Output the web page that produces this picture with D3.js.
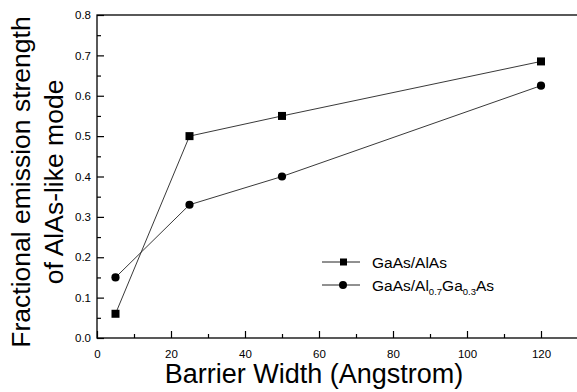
<!DOCTYPE html>
<html>
<head>
<meta charset="utf-8">
<script src="https://cdn.jsdelivr.net/npm/d3@7"></script>
<style>
  body { margin: 0; background: #fff; }
  svg { display: block; font-family: "Liberation Sans", Arial, sans-serif; }
</style>
</head>
<body>
<div id="chart"></div>
<script>
const barrierWidth = [5, 25, 50, 120];
const gaasAlas = [0.06, 0.50, 0.55, 0.685];
const gaasAlgaas = [0.15, 0.33, 0.40, 0.625];
const xTicks = [0, 20, 40, 60, 80, 100, 120];
const yTicks = [0.0, 0.1, 0.2, 0.3, 0.4, 0.5, 0.6, 0.7, 0.8];

const width = 577, height = 392;
const margin = { top: 15, right: -1, bottom: 54, left: 97 };

const svg = d3.select('#chart').append('svg')
  .attr('width', width)
  .attr('height', height);

const x = d3.scaleLinear().domain([0, 130]).range([margin.left, width - margin.right]);
const y = d3.scaleLinear().domain([0, 0.8]).range([height - margin.bottom, margin.top]);

// frame
svg.append('rect')
  .attr('x', x(0)).attr('y', y(0.8))
  .attr('width', x(130) - x(0)).attr('height', y(0) - y(0.8))
  .attr('fill', 'none').attr('stroke', '#000').attr('stroke-width', 1.3);

// x axis (ticks inside)
svg.append('g')
  .attr('transform', `translate(0,${y(0)})`)
  .call(d3.axisBottom(x).tickValues(xTicks).tickSize(-7).tickPadding(12).tickFormat(d3.format('d')));
svg.append('g')
  .attr('transform', `translate(0,${y(0)})`)
  .call(d3.axisBottom(x).tickValues(d3.range(10, 130, 20)).tickSize(-4).tickFormat(''));

svg.append('g')
  .attr('transform', `translate(${x(0)},0)`)
  .call(d3.axisLeft(y).tickValues(yTicks).tickSize(-7).tickPadding(6).tickFormat(d3.format('.1f')));
svg.append('g')
  .attr('transform', `translate(${x(0)},0)`)
  .call(d3.axisLeft(y).tickValues(d3.range(0.05, 0.8, 0.1)).tickSize(-4).tickFormat(''));

svg.selectAll('.domain').remove();
svg.selectAll('.tick line').attr('stroke', '#000').attr('stroke-width', 1.2);
svg.selectAll('.tick text').attr('font-size', 11.5).attr('fill', '#000')
  .attr('font-family', '"Liberation Sans", Arial, sans-serif');

// series
const line = d3.line().x((d, i) => x(barrierWidth[i])).y(d => y(d));

[gaasAlas, gaasAlgaas].forEach(values => {
  svg.append('path')
    .datum(values)
    .attr('d', line)
    .attr('fill', 'none')
    .attr('stroke', '#222')
    .attr('stroke-width', 0.9);
});

svg.selectAll('.sq').data(gaasAlas).enter().append('rect')
  .attr('x', (d, i) => x(barrierWidth[i]) - 4)
  .attr('y', d => y(d) - 4)
  .attr('width', 8).attr('height', 8)
  .attr('fill', '#000');

svg.selectAll('.ci').data(gaasAlgaas).enter().append('circle')
  .attr('cx', (d, i) => x(barrierWidth[i]))
  .attr('cy', d => y(d))
  .attr('r', 4.1)
  .attr('fill', '#000');

// legend
const lg = svg.append('g').attr('transform', 'translate(322,262)');
lg.append('line').attr('x1', 0).attr('x2', 38).attr('y1', 0).attr('y2', 0).attr('stroke', '#222');
lg.append('rect').attr('x', 18).attr('y', -3.5).attr('width', 7).attr('height', 7).attr('fill', '#000');
lg.append('text').attr('x', 50).attr('y', 5.5).attr('font-size', 15.5).text('GaAs/AlAs');

const lg2 = svg.append('g').attr('transform', 'translate(322,285)');
lg2.append('line').attr('x1', 0).attr('x2', 38).attr('y1', 0).attr('y2', 0).attr('stroke', '#222');
lg2.append('circle').attr('cx', 21).attr('cy', 0).attr('r', 4).attr('fill', '#000');
const t2 = lg2.append('text').attr('x', 50).attr('y', 5.5).attr('font-size', 15.5);
t2.append('tspan').text('GaAs/Al');
t2.append('tspan').attr('font-size', 9.5).attr('dy', 4).text('0.7');
t2.append('tspan').attr('dy', -4).text('Ga');
t2.append('tspan').attr('font-size', 9.5).attr('dy', 4).text('0.3');
t2.append('tspan').attr('dy', -4).text('As');

// axis titles
svg.append('text')
  .attr('x', 314).attr('y', 383)
  .attr('text-anchor', 'middle')
  .attr('font-size', 27)
  .text('Barrier Width (Angstrom)');

const yt = svg.append('text')
  .attr('transform', 'translate(0,182) rotate(-90)')
  .attr('text-anchor', 'middle')
  .attr('font-size', 26.5);
yt.append('tspan').attr('x', 0).attr('y', 30).text('Fractional emission strength');
yt.append('tspan').attr('x', 0).attr('y', 63).text('of AlAs-like mode');
</script>
</body>
</html>
